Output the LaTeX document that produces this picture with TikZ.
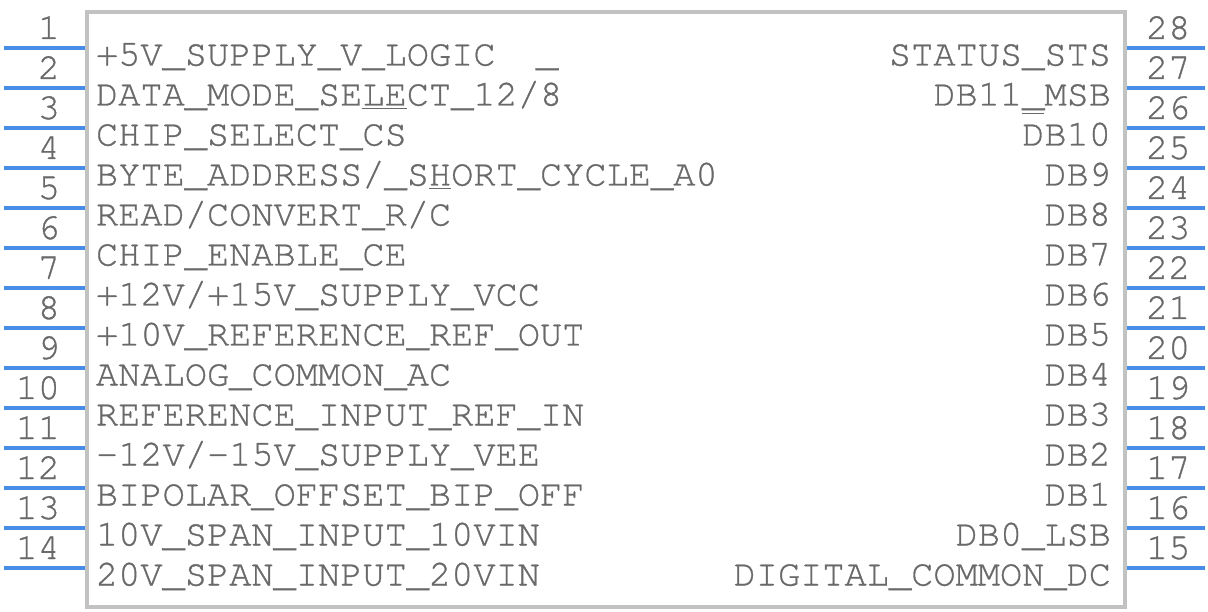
\documentclass[tikz,border=0pt]{standalone}
\usepackage{fontspec}
\IfFontExistsTF{TeX Gyre Cursor}{\newfontfamily\monof[FakeBold=0.9]{TeX Gyre Cursor}}{\newfontfamily\monof{Liberation Mono}}
\definecolor{txt}{RGB}{105,105,105}
\definecolor{pinc}{RGB}{72,142,232}
\definecolor{boxc}{RGB}{194,194,194}
\newsavebox\mybox
\newcommand\ulx[1]{\sbox\mybox{#1}\rlap{\rule[-4pt]{\wd\mybox}{1.8pt}}\usebox\mybox}
\newcommand\olx[1]{\sbox\mybox{#1}\rlap{\rule[31pt]{\wd\mybox}{1.8pt}}\usebox\mybox}
\begin{document}
\begin{tikzpicture}[x=1pt,y=-1pt,
  lbl/.style={inner sep=0pt, outer sep=0pt, text=txt, font=\monof\fontsize{37}{40}\selectfont},
  leftlbl/.style={lbl, anchor=base west},
  rightlbl/.style={lbl, anchor=base east},
  pinline/.style={draw=pinc, line width=3.5pt},
  chipbox/.style={draw=boxc, line width=4pt, inner sep=0pt, minimum width=1038pt, minimum height=595pt}]
\useasboundingbox (0,0) rectangle (1208,612);
\node[chipbox, anchor=north west] (body) at (85,10) {};
\foreach \i in {1,...,14}{
  \pgfmathsetmacro\py{8+40*\i}
  \pgfmathtruncatemacro\rn{29-\i}
  \coordinate (la\i) at (4,\py);
  \coordinate (ra\i) at (1205,\py);
  \draw[pinline] (la\i) -- (body.west |- la\i);
  \draw[pinline] (body.east |- ra\i) -- (ra\i);
  \node[lbl, anchor=base east] (nl\i) at (60,\py-9) {\i};
  \node[lbl, anchor=base west] (nr\i) at (1146,\py-9) {\rn};
}
% left labels
\node[leftlbl] (L1) at (96,65.5) {+5V\_SUPPLY\_V\_LOGIC};
\node[leftlbl] (L1x) at (536,65.5) {\_};
\node[leftlbl] (L2) at (96,105.5) {DATA\_MODE\_SE\ulx{LE}CT\_12/8};
\node[leftlbl] (L3) at (96,145.5) {CHIP\_SELECT\_CS};
\node[leftlbl] (L4) at (96,185.5) {BYTE\_ADDRESS/\_S\ulx{H}ORT\_CYCLE\_A0};
\node[leftlbl] (L5) at (96,225.5) {READ/CONVERT\_R/C};
\node[leftlbl] (L6) at (96,265.5) {CHIP\_ENABLE\_CE};
\node[leftlbl] (L7) at (96,305.5) {+12V/+15V\_SUPPLY\_VCC};
\node[leftlbl] (L8) at (96,345.5) {+10V\_REFERENCE\_REF\_OUT};
\node[leftlbl] (L9) at (96,385.5) {ANALOG\_COMMON\_AC};
\node[leftlbl] (L10) at (96,425.5) {REFERENCE\_INPUT\_REF\_IN};
\node[leftlbl] (L11) at (96,465.5) {-12V/-15V\_SUPPLY\_VEE};
\node[leftlbl] (L12) at (96,505.5) {BIPOLAR\_OFFSET\_BIP\_OFF};
\node[leftlbl] (L13) at (96,545.5) {10V\_SPAN\_INPUT\_10VIN};
\node[leftlbl] (L14) at (96,585.5) {20V\_SPAN\_INPUT\_20VIN};
% right labels
\node[rightlbl] (R28) at (1111,65.5) {STATUS\_STS};
\node[rightlbl] (R27) at (1111,105.5) {DB11\_MSB};
\node[rightlbl] (R26) at (1111,145.5) {\olx{D}B10};
\node[rightlbl] (R25) at (1111,185.5) {DB9};
\node[rightlbl] (R24) at (1111,225.5) {DB8};
\node[rightlbl] (R23) at (1111,265.5) {DB7};
\node[rightlbl] (R22) at (1111,305.5) {DB6};
\node[rightlbl] (R21) at (1111,345.5) {DB5};
\node[rightlbl] (R20) at (1111,385.5) {DB4};
\node[rightlbl] (R19) at (1111,425.5) {DB3};
\node[rightlbl] (R18) at (1111,465.5) {DB2};
\node[rightlbl] (R17) at (1111,505.5) {DB1};
\node[rightlbl] (R16) at (1111,545.5) {DB0\_LSB};
\node[rightlbl] (R15) at (1111,585.5) {DIGITAL\_COMMON\_DC};
\end{tikzpicture}
\end{document}
